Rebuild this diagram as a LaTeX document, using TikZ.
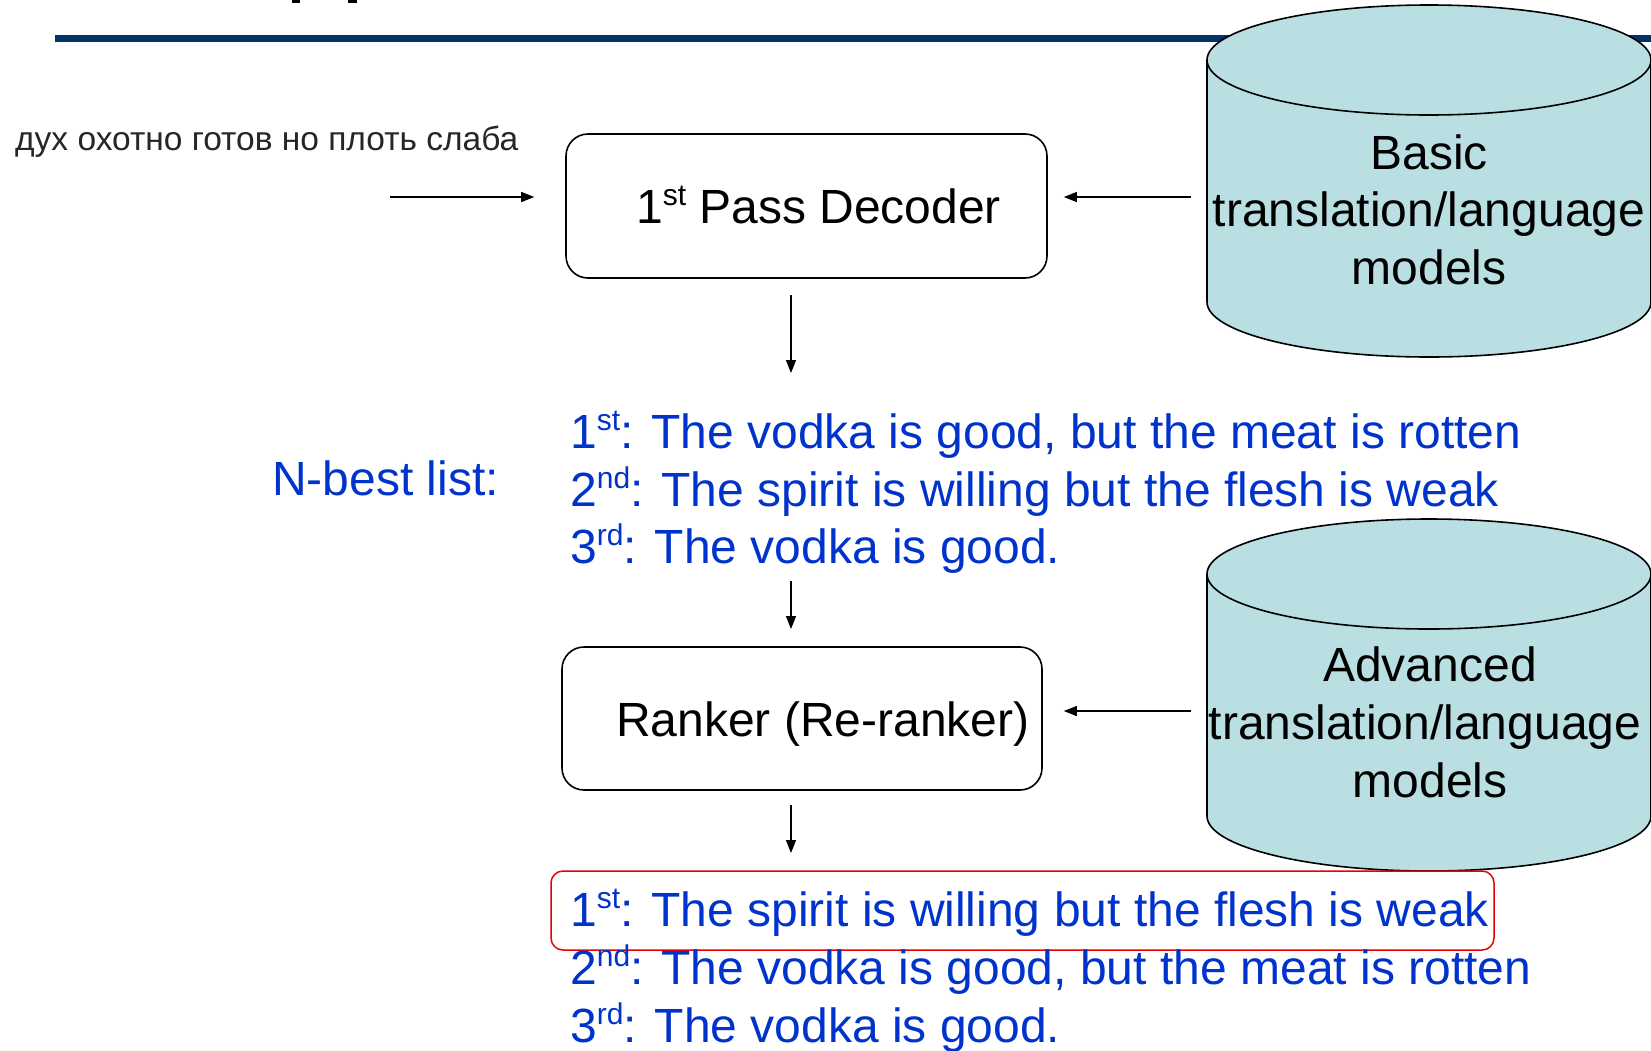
\documentclass[tikz,border=0pt]{standalone}
\usepackage{fontspec}
\setmainfont{Liberation Sans}
\usetikzlibrary{arrows.meta}
\definecolor{listblue}{RGB}{0,51,204}
\definecolor{barblue}{RGB}{0,51,102}
\definecolor{dbfill}{RGB}{185,223,227}
\definecolor{pickred}{RGB}{235,0,0}
% ordinal suffix raised like a superscript
\newcommand\ordsup[1]{\raisebox{0.36em}{\fontsize{30}{30}\selectfont #1}}

\begin{document}
\begin{tikzpicture}[x=1pt,y=-1pt,
  arr/.style={line width=1.3pt,-{Triangle[length=13pt,width=10pt]}},
  procbox/.style={draw,line width=1.6pt,rounded corners=22pt,inner sep=0pt},
  bigtext/.style={font=\fontsize{48}{58}\selectfont,inner sep=0pt},
  listline/.style={bigtext,text=listblue,anchor=base west},
  dbtext/.style={bigtext,anchor=base},
  dbody/.style={fill=dbfill,draw=black,line width=1.6pt}
]
\useasboundingbox (0,0) rectangle (1651,1050);

% heading rule and the cut-off title glyphs above it
\fill[black] (292,0) rectangle (300,3);
\fill[black] (348,0) rectangle (357,3);
\fill[barblue] (55,35) rectangle (1651,42);

% model databases
\filldraw[dbody] (1207,60) -- (1207,302)
  arc[start angle=180,end angle=0,x radius=222,y radius=55] -- (1651,60)
  arc[start angle=0,end angle=-180,x radius=222,y radius=55] -- cycle;
\draw[line width=1.6pt] (1207,60) arc[start angle=180,end angle=0,x radius=222,y radius=55];
\node[dbtext] (basic1) at (1429,169) {Basic};
\node[dbtext] (basic2) at (1429,226) {translation/language};
\node[dbtext] (basic3) at (1429,284) {models};

\filldraw[dbody] (1207,574) -- (1207,816)
  arc[start angle=180,end angle=0,x radius=222,y radius=55] -- (1651,574)
  arc[start angle=0,end angle=-180,x radius=222,y radius=55] -- cycle;
\draw[line width=1.6pt] (1207,574) arc[start angle=180,end angle=0,x radius=222,y radius=55];
\node[dbtext] (adv1) at (1430,681) {Advanced};
\node[dbtext] (adv2) at (1425,739) {translation/language};
\node[dbtext] (adv3) at (1430,797) {models};

% source sentence
\node[anchor=base west,inner sep=0pt,text=black!85,font=\fontsize{33.5}{40}\selectfont]
  (src) at (15,150) {дух охотно готов но плоть слаба};

% processing stages
\node[procbox,minimum width=481pt,minimum height=144pt] (dec) at (806.5,206) {};
\node[bigtext,anchor=base west] (dectext) at (636,223) {1\ordsup{st} Pass Decoder};
\node[procbox,minimum width=480pt,minimum height=143pt] (rank) at (802,718.5) {};
\node[bigtext,anchor=base west] (ranktext) at (616,736) {Ranker (Re-ranker)};

% N-best list from the first pass
\node[bigtext,text=listblue,anchor=base west] (nbest) at (272,495) {N-best list:};
\node[listline] (a1) at (570,448) {1\ordsup{st}: The vodka is good, but the meat is rotten};
\node[listline] (a2) at (570,506) {2\ordsup{nd}: The spirit is willing but the flesh is weak};
\node[listline] (a3) at (570,563) {3\ordsup{rd}: The vodka is good.};

% re-ranked list
\node[draw=pickred,line width=1.5pt,rounded corners=12pt,minimum width=943pt,minimum height=79pt,inner sep=0pt]
  (pick) at (1022.5,910.5) {};
\node[listline] (b1) at (570,926) {1\ordsup{st}: The spirit is willing but the flesh is weak};
\node[listline] (b2) at (570,984) {2\ordsup{nd}: The vodka is good, but the meat is rotten};
\node[listline] (b3) at (570,1042) {3\ordsup{rd}: The vodka is good.};

% connectors
\coordinate (srcport) at (390,197);
\coordinate (basicport) at (1191,197);
\coordinate (advport) at (1191,711);
\coordinate (d1s) at (791,295);
\coordinate (d1e) at (791,373);
\coordinate (d2s) at (791,581);
\coordinate (d2e) at (791,629);
\coordinate (d3s) at (791,805);
\coordinate (d3e) at (791,853);

\draw[arr,shorten >=31pt] (srcport) -- (srcport -| dec.west);
\draw[arr,shorten >=16pt] (basicport) -- (basicport -| dec.east);
\draw[arr,shorten >=21pt] (advport) -- (advport -| rank.east);
\draw[arr] (d1s) -- (d1e);
\draw[arr] (d2s) -- (d2e);
\draw[arr] (d3s) -- (d3e);
\end{tikzpicture}
\end{document}
